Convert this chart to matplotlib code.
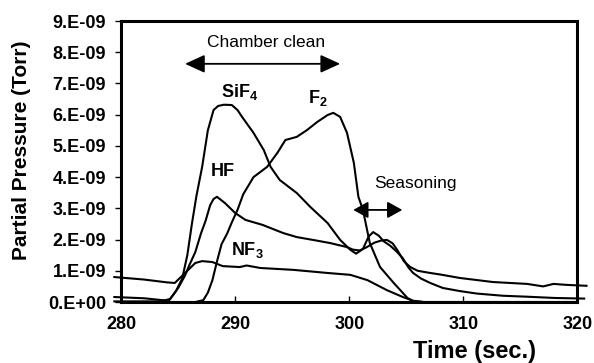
import matplotlib
matplotlib.use("Agg")
import matplotlib.pyplot as plt

plt.rcParams['font.family'] = ['Liberation Sans', 'DejaVu Sans']
plt.rcParams['mathtext.fontset'] = 'custom'
plt.rcParams['mathtext.rm'] = 'Liberation Sans:bold'
plt.rcParams['mathtext.default'] = 'rm'

# partial pressures in units of 1e-9 Torr
sif4_t = [279.4, 282.0, 283.6, 284.2, 284.8, 285.35, 285.8, 286.2, 286.6, 287.1, 287.6,
          288.1, 288.5, 289.0, 289.7, 290.2, 290.6, 291.6, 292.5, 293.1, 293.9, 295.4,
          296.6, 298.1, 299.2, 300.1, 300.6, 301.2, 301.7, 302.1, 302.6, 303.0, 303.6,
          304.2, 304.7, 305.2, 305.6, 306.3, 307.1, 308.2, 309.7, 311.2, 313.5, 315.6,
          318.0, 320.6]
sif4_p = [0.16, 0.12, 0.06, 0.05, 0.35, 0.75, 1.5, 2.5, 3.4, 4.33, 5.5,
          6.15, 6.28, 6.32, 6.31, 6.15, 5.93, 5.42, 4.87, 4.33, 3.91, 3.49,
          3.04, 2.53, 1.99, 1.67, 1.55, 1.7, 2.1, 2.24, 2.12, 1.95, 1.8,
          1.6, 1.4, 1.1, 0.93, 0.75, 0.61, 0.45, 0.35, 0.27, 0.2, 0.17,
          0.13, 0.11]

hf_t = [279.4, 283.5, 284.3, 285.0, 285.6, 286.0, 286.5, 287.0, 287.4, 287.8, 288.1,
        288.4, 289.1, 290.0, 290.9, 292.4, 294.2, 295.4, 296.8, 298.3, 299.8, 300.3,
        300.9, 301.5, 302.2, 302.8, 303.3, 303.8, 304.2, 304.8, 305.35, 306.0, 307.1,
        308.0, 309.7, 312.6, 315.6, 317.0, 317.9, 319.0, 320.8]
hf_p = [0.02, 0.02, 0.1, 0.45, 0.85, 1.2, 1.6, 2.2, 2.6, 3.1, 3.3,
        3.37, 3.17, 2.85, 2.63, 2.47, 2.21, 2.08, 1.99, 1.89, 1.76, 1.68,
        1.65, 1.75, 1.9, 1.97, 1.99, 1.88, 1.67, 1.3, 1.12, 1.0, 0.93,
        0.88, 0.77, 0.64, 0.58, 0.5, 0.58, 0.55, 0.52]

f2_t = [280.0, 286.5, 287.2, 287.6, 288.0, 288.4, 288.8, 289.3, 289.7, 290.2, 290.7,
        291.6, 292.8, 293.7, 294.4, 295.4, 296.3, 297.2, 298.1, 298.6, 299.2, 299.8,
        300.4, 300.8, 301.2, 301.8, 302.7, 303.9, 305.1, 305.6, 306.5, 320.0]
f2_p = [0.0, 0.0, 0.06, 0.3, 0.7, 1.3, 1.85, 2.2, 2.55, 2.95, 3.45,
        4.0, 4.33, 4.78, 5.19, 5.29, 5.51, 5.77, 5.99, 6.06, 5.93, 5.42,
        4.46, 3.37, 2.95, 1.89, 1.12, 0.61, 0.13, 0.03, 0.0, 0.0]

nf3_t = [279.4, 282.0, 284.0, 284.7, 285.6, 286.5, 287.1, 288.0, 288.9, 290.4, 291.0,
         292.2, 295.1, 298.1, 300.1, 301.6, 303.3, 304.7, 305.6, 306.5, 320.0]
nf3_p = [0.8, 0.72, 0.63, 0.61, 0.93, 1.25, 1.31, 1.28, 1.15, 1.12, 1.17,
         1.09, 1.03, 0.93, 0.87, 0.7, 0.38, 0.16, 0.04, 0.0, 0.0]

x_ticks = [280, 290, 300, 310, 320]
y_ticks = [0, 1, 2, 3, 4, 5, 6, 7, 8, 9]
y_tick_labels = ['0.E+00', '1.E-09', '2.E-09', '3.E-09', '4.E-09',
                 '5.E-09', '6.E-09', '7.E-09', '8.E-09', '9.E-09']

fig = plt.figure(figsize=(5.94, 3.63), dpi=100)
ax = fig.add_axes([0.204, 0.168, 0.768, 0.774])

for t, p in [(sif4_t, sif4_p), (hf_t, hf_p), (f2_t, f2_p), (nf3_t, nf3_p)]:
    ax.plot(t, p, color='black', lw=1.5, clip_on=False, zorder=2)

ax.set_xlim(280, 320)
ax.set_ylim(0, 9)
ax.set_xticks(x_ticks)
ax.set_yticks(y_ticks)
ax.set_yticklabels(y_tick_labels)
for s in ax.spines.values():
    s.set_linewidth(2.2)
    s.set_zorder(3)
ax.tick_params(axis='x', direction='in', length=4, width=1, pad=10, labelsize=13)
ax.tick_params(axis='y', direction='out', length=4, width=1, pad=7, labelsize=13)
for lab in ax.get_xticklabels() + ax.get_yticklabels():
    lab.set_fontweight('bold')

fig.text(0.037, 0.587, 'Partial Pressure (Torr)', rotation=90, ha='center', va='center',
         fontsize=15, fontweight='bold')
fig.text(0.798, 0.033, 'Time (sec.)', ha='center', va='center',
         fontsize=17, fontweight='bold')

# species labels
ax.text(290.4, 6.73, r'SiF$_4$', ha='center', va='center', fontsize=13, fontweight='bold')
ax.text(297.2, 6.54, r'F$_2$', ha='center', va='center', fontsize=13, fontweight='bold')
ax.text(288.9, 4.17, 'HF', ha='center', va='center', fontsize=13, fontweight='bold')
ax.text(291.1, 1.67, r'NF$_3$', ha='center', va='center', fontsize=13, fontweight='bold')

# phase annotations
ax.text(292.7, 8.3, 'Chamber clean', ha='center', va='center', fontsize=12.5)
ax.annotate('', xy=(299.2, 7.63), xytext=(285.6, 7.63),
            arrowprops=dict(arrowstyle='<|-|>,head_length=1.2,head_width=0.55',
                            mutation_scale=10, lw=1.3, color='black',
                            shrinkA=0, shrinkB=0))
ax.text(305.8, 3.8, 'Seasoning', ha='center', va='center', fontsize=12.5)
ax.annotate('', xy=(304.65, 2.95), xytext=(300.35, 2.95),
            arrowprops=dict(arrowstyle='<|-|>,head_length=0.9,head_width=0.5',
                            mutation_scale=10, lw=1.3, color='black',
                            shrinkA=0, shrinkB=0))

fig.savefig('out.png', dpi=100)
